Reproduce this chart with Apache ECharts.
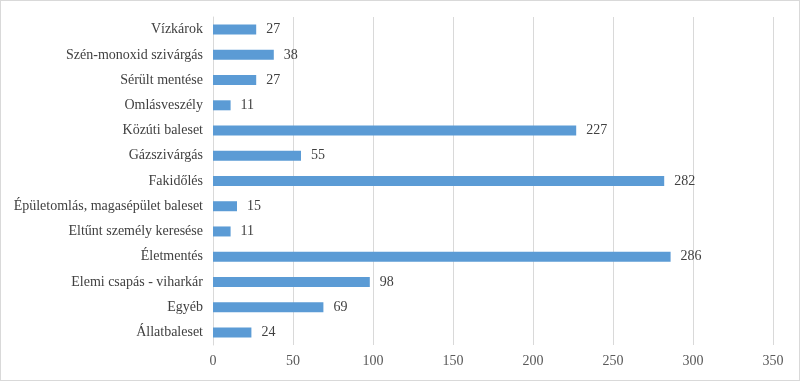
<!DOCTYPE html>
<html><head><meta charset="utf-8">
<script src="https://cdn.jsdelivr.net/npm/echarts@6/dist/echarts.min.js"></script>
<style>html,body{margin:0;padding:0;background:#fff}#c{width:800px;height:381px;box-sizing:border-box;border:1px solid #d9d9d9}</style>
</head><body><div id="c"></div>
<script>
const categories = ['Állatbaleset','Egyéb','Elemi csapás - viharkár','Életmentés','Eltűnt személy keresése','Épületomlás, magasépület baleset','Fakidőlés','Gázszivárgás','Közúti baleset','Omlásveszély','Sérült mentése','Szén-monoxid szivárgás','Vízkárok'];
const values = [24,69,98,286,11,15,282,55,227,11,27,38,27];
const chart = echarts.init(document.getElementById('c'));
const font = '"Liberation Serif","Times New Roman",serif';
chart.setOption({
  animation:false,
  grid:{left:212,right:26,top:16,bottom:35},
  xAxis:{type:'value',min:0,max:350,interval:50,
    axisLine:{show:false},axisTick:{show:false},
    splitLine:{lineStyle:{color:'#d9d9d9',width:1}},
    axisLabel:{color:'#595959',fontFamily:font,fontSize:14,margin:9}},
  yAxis:{type:'category',data:categories,
    axisLine:{show:true,lineStyle:{color:'#d9d9d9'}},axisTick:{show:false},
    axisLabel:{color:'#404040',fontFamily:font,fontSize:14,margin:10}},
  series:[{type:'bar',data:values,barWidth:10,
    itemStyle:{color:'#5B9BD5'},
    label:{show:true,position:'right',distance:10,color:'#404040',fontFamily:font,fontSize:14}}]
});
</script></body></html>
